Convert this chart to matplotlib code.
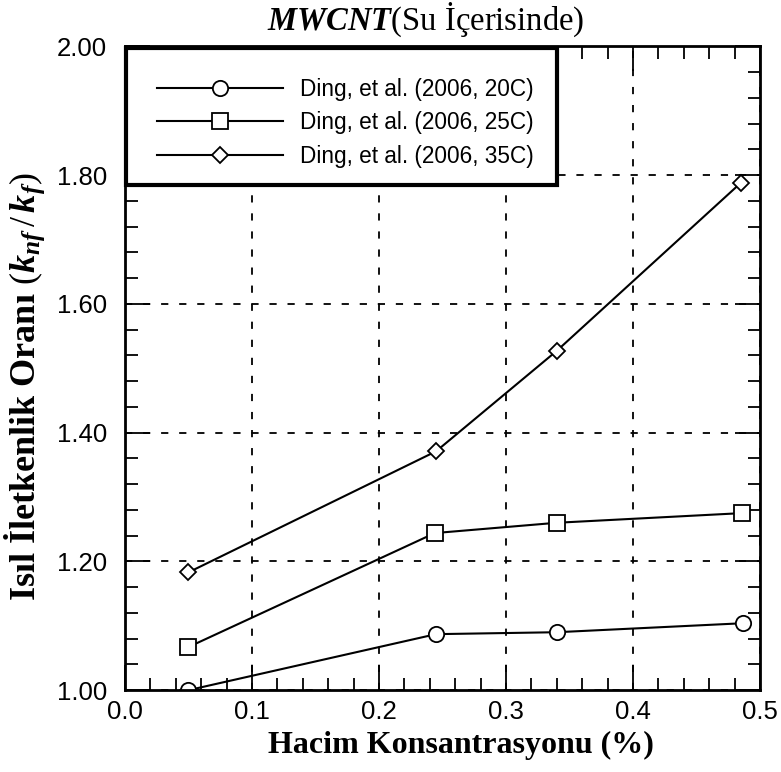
import matplotlib.pyplot as plt
from matplotlib.patches import Rectangle
from matplotlib.ticker import MultipleLocator

plt.rcParams['mathtext.fontset'] = 'custom'
plt.rcParams['mathtext.rm'] = 'Liberation Serif'
plt.rcParams['mathtext.it'] = 'Liberation Serif:italic:bold'
plt.rcParams['mathtext.bf'] = 'Liberation Serif:bold'

# hacim konsantrasyonu (%)
x_20 = [0.05, 0.245, 0.34, 0.487]
y_20 = [1.00, 1.087, 1.090, 1.104]
x_25 = [0.05, 0.244, 0.34, 0.486]
y_25 = [1.067, 1.244, 1.260, 1.275]
x_35 = [0.05, 0.245, 0.34, 0.485]
y_35 = [1.183, 1.371, 1.527, 1.788]
labels = ['Ding, et al. (2006, 20C)', 'Ding, et al. (2006, 25C)', 'Ding, et al. (2006, 35C)']

xticks = [0.0, 0.1, 0.2, 0.3, 0.4, 0.5]
yticks = [1.00, 1.20, 1.40, 1.60, 1.80, 2.00]

fig = plt.figure(figsize=(7.81, 7.72), dpi=100)
ax = fig.add_axes([0.160, 0.106, 0.813, 0.834])

ax.plot(x_20, y_20, color='black', lw=1.5, marker='o', ms=11, mfc='white', mew=1.3, label=labels[0])
ax.plot(x_25, y_25, color='black', lw=1.5, marker='s', ms=12, mfc='white', mew=1.3, label=labels[1])
ax.plot(x_35, y_35, color='black', lw=1.5, marker='D', ms=8, mfc='white', mew=1.3, label=labels[2])

ax.set_xlim(0, 0.5)
ax.set_ylim(1.0, 2.0)
ax.set_xticks(xticks)
ax.set_yticks(yticks)
ax.set_xticklabels(['%.1f' % v for v in xticks], fontname='Liberation Sans', fontsize=18.5)
ax.set_yticklabels(['%.2f' % v for v in yticks], fontname='Liberation Sans', fontsize=18.5)
ax.xaxis.set_minor_locator(MultipleLocator(0.02))
ax.yaxis.set_minor_locator(MultipleLocator(0.04))
ax.tick_params(which='both', direction='in', top=True, right=True, width=1.3)
ax.tick_params(which='major', length=18)
ax.tick_params(axis='x', which='major', pad=7)
ax.tick_params(axis='y', which='major', pad=13)
ax.tick_params(which='minor', length=9)

ax.grid(True, which='major', color='black', linestyle=(0, (4, 6)), lw=1.3)
for s in ax.spines.values():
    s.set_linewidth(2)

ax.set_xlabel('Hacim Konsantrasyonu (%)', fontname='Liberation Serif', fontweight='bold', fontsize=23)
ax.xaxis.set_label_coords(0.529, -0.063)
ax.set_ylabel('Isıl İletkenlik Oranı $(k_{nf}\\,/\\,k_f)$', fontname='Liberation Serif', fontweight='bold', fontsize=26)
ax.yaxis.set_label_coords(-0.123, 0.472)
ax.text(0.474, 1.012, '$MWCNT$(Su İçerisinde)', transform=ax.transAxes, ha='center', va='bottom',
        fontname='Liberation Serif', fontsize=23.5)

# legend box drawn separately (thick frame, more room on top)
ax.add_patch(Rectangle((0.002, 0.784), 0.678, 0.213, transform=ax.transAxes, facecolor='white',
                       edgecolor='black', lw=3, zorder=4.5, clip_on=False))
ax.legend(loc='upper left', bbox_to_anchor=(0.050, 0.951), prop={'family': 'Liberation Sans', 'size': 16.3},
          handlelength=5.6, frameon=False, borderpad=0, labelspacing=0.46, borderaxespad=0,
          handletextpad=0.75)

fig.savefig('out.png', dpi=100)
